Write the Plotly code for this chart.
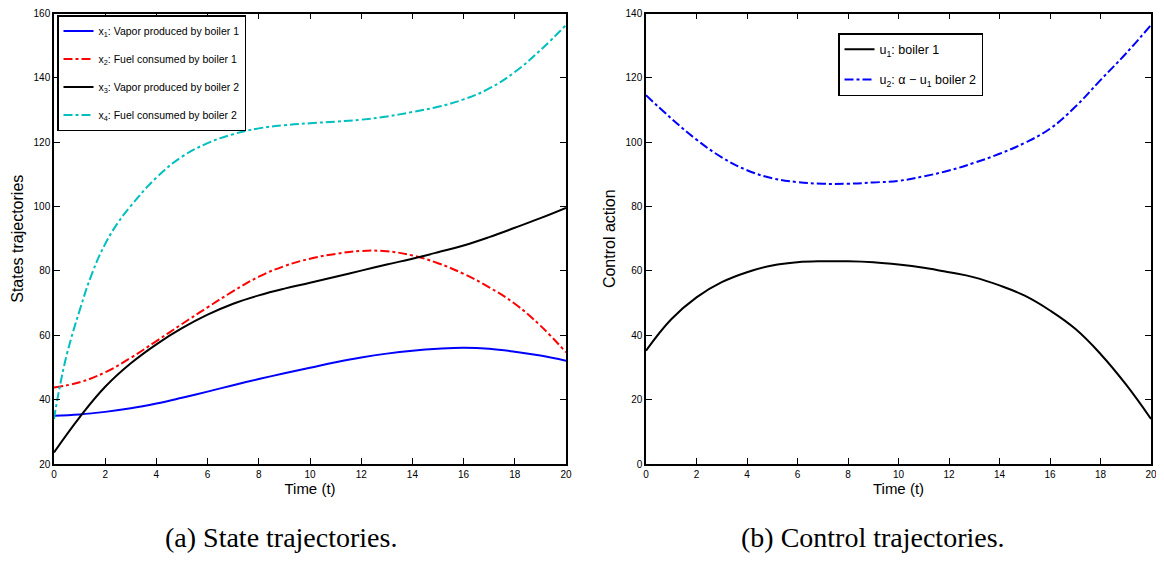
import plotly.graph_objects as go

# ---- data ----
t = list(range(0, 21))
x1 = [35.0, 35.4, 36.2, 37.3, 38.8, 40.6, 42.5, 44.5, 46.4, 48.2, 49.9, 51.6, 53.1, 54.3, 55.2, 55.8, 56.1, 55.8, 54.9, 53.7, 52.1]
x2 = [43.8, 45.4, 48.5, 53.0, 58.2, 63.5, 68.7, 73.7, 78.2, 81.5, 83.8, 85.3, 86.2, 86.1, 84.8, 82.4, 79.1, 74.9, 69.8, 63.0, 54.7]
x3 = [23.6, 34.5, 44.0, 51.3, 57.2, 62.2, 66.4, 69.8, 72.4, 74.5, 76.3, 78.2, 80.1, 82.0, 83.8, 85.8, 87.9, 90.5, 93.4, 96.4, 99.6]
t4 = [0, 0.17, 0.5, 1, 1.5, 2, 2.5, 3, 4, 5, 6, 7, 8, 9, 10, 11, 12, 13, 14, 15, 16, 17, 18, 19, 20]
x4 = [34.0, 41.7, 54.0, 67.7, 79.5, 88.4, 95.0, 100.2, 109.0, 115.5, 119.7, 122.5, 124.3, 125.3, 125.9, 126.4, 127.0, 128.0, 129.4, 131.0, 133.3, 136.7, 141.8, 148.6, 156.4]
u1 = [35.2, 45.0, 51.8, 56.5, 59.6, 61.7, 62.7, 63.0, 63.0, 62.7, 62.0, 61.0, 59.6, 58.0, 55.5, 52.3, 47.7, 42.0, 34.2, 24.8, 14.0]
u2 = [114.6, 107.4, 100.8, 95.3, 91.3, 88.8, 87.6, 87.1, 87.1, 87.5, 88.0, 89.4, 91.2, 93.6, 96.4, 99.8, 104.2, 111.0, 119.3, 127.5, 136.4]

names_left = ["x<sub>1</sub>: Vapor produced by boiler 1",
              "x<sub>2</sub>: Fuel consumed by boiler 1",
              "x<sub>3</sub>: Vapor produced by boiler 2",
              "x<sub>4</sub>: Fuel consumed by boiler 2"]
names_right = ["u<sub>1</sub>: boiler 1",
               "u<sub>2</sub>: \u03b1 \u2212 u<sub>1</sub> boiler 2"]
xticks = [0, 2, 4, 6, 8, 10, 12, 14, 16, 18, 20]
yticks_left = [20, 40, 60, 80, 100, 120, 140, 160]
yticks_right = [0, 20, 40, 60, 80, 100, 120, 140]
captions = ["(a) State trajectories.", "(b) Control trajectories."]

SANS = "Liberation Sans, Arial, sans-serif"

# the page body adds an 8px margin on each side; size the figure to fit the window
OFF = 8
W, H = 1164 - 2 * OFF, 562 - 2 * OFF
def fx(px):
    return (px - OFF) / W
def fy(py):
    return 1 - (py - OFF) / H

fig = go.Figure()

def add(x, y, name, color, dash, xa, ya, legend, grp):
    fig.add_trace(go.Scatter(x=x, y=y, name=name, mode="lines",
                             line=dict(color=color, width=2, dash=dash, shape="spline", smoothing=1.2),
                             xaxis=xa, yaxis=ya, legend=legend, legendgroup=grp))

add(t, x1, names_left[0], "#0000ff", "solid", "x", "y", "legend", "a1")
add(t, x2, names_left[1], "#ff0000", "dashdot", "x", "y", "legend", "a2")
add(t, x3, names_left[2], "#000000", "solid", "x", "y", "legend", "a3")
add(t4, x4, names_left[3], "#00bfbf", "dashdot", "x", "y", "legend", "a4")
add(t, u1, names_right[0], "#000000", "solid", "x2", "y2", "legend2", "b1")
add(t, u2, names_right[1], "#0000ff", "dashdot", "x2", "y2", "legend2", "b2")

axis_common = dict(showline=True, linecolor="black", linewidth=1.5, mirror="ticks",
                   ticks="inside", ticklen=6, tickcolor="black", showgrid=False, zeroline=False,
                   automargin=False, ticklabeloverflow="allow",
                   tickfont=dict(family=SANS, size=10, color="black"))

y_top = fy(13.5)
y_bot = fy(464)

fig.update_layout(
    width=W, height=H,
    margin=dict(l=0, r=0, t=0, b=0, autoexpand=False),
    paper_bgcolor="white", plot_bgcolor="white",
    showlegend=True,
    xaxis=dict(domain=[fx(54), fx(566)], range=[0, 20], tickvals=xticks, anchor="y",
               title=dict(text="Time (t)", font=dict(family=SANS, size=15, color="black"), standoff=4),
               **axis_common),
    yaxis=dict(domain=[y_bot, y_top], range=[20, 160], tickvals=yticks_left, anchor="x",
               title=dict(text="States trajectories", font=dict(family=SANS, size=16, color="black"), standoff=6),
               **axis_common),
    xaxis2=dict(domain=[fx(646), fx(1151)], range=[0, 20], tickvals=xticks, anchor="y2",
                title=dict(text="Time (t)", font=dict(family=SANS, size=15, color="black"), standoff=4),
                **axis_common),
    yaxis2=dict(domain=[y_bot, y_top], range=[0, 140], tickvals=yticks_right, anchor="x2",
                title=dict(text="Control action", font=dict(family=SANS, size=16, color="black"), standoff=6),
                **axis_common),
    legend=dict(x=fx(57), y=fy(15), xanchor="left", yanchor="top",
                bgcolor="white", bordercolor="black", borderwidth=1.5,
                font=dict(family=SANS, size=10.5, color="black"), tracegroupgap=9,
                itemwidth=30),
    legend2=dict(x=fx(838), y=fy(33), xanchor="left", yanchor="top",
                 bgcolor="white", bordercolor="black", borderwidth=1.5,
                 font=dict(family=SANS, size=12.5, color="black"), tracegroupgap=11,
                 itemwidth=30),
)

for cx, txt in zip([281, 873], captions):
    fig.add_annotation(text=txt, x=fx(cx), y=fy(537), xref="paper", yref="paper",
                       xanchor="center", yanchor="middle", showarrow=False,
                       font=dict(family="Liberation Serif, DejaVu Serif, serif", size=28, color="black"))

fig.write_html("out.html")
